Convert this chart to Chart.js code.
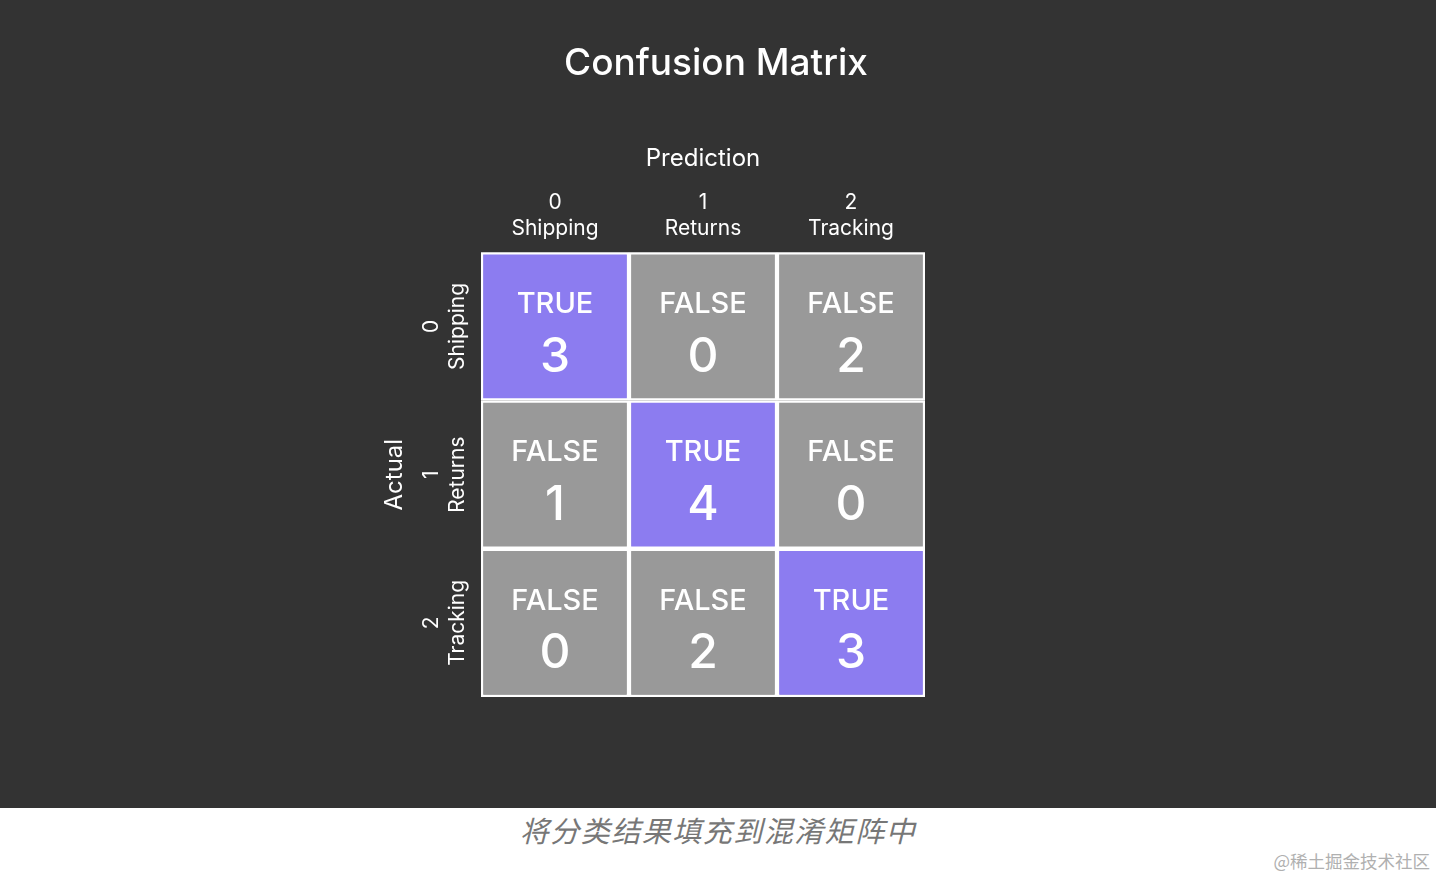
<!DOCTYPE html>
<html>
<head>
<meta charset="utf-8">
<title>Confusion Matrix</title>
<script src="https://cdn.jsdelivr.net/npm/chart.js@4.4.0/dist/chart.umd.min.js"></script>
<style>
  html, body { margin: 0; padding: 0; background: #fff; }
  #board { width: 1436px; height: 808px; background: #333333; }
  #caption {
    position: relative;
    width: 1436px; height: 70px;
    font-family: "Noto Sans CJK SC", sans-serif;
  }
  #caption .text {
    position: absolute; left: 0; right: 0; top: 0px;
    text-align: center;
    font-size: 29px; font-style: italic; color: #777777;
    letter-spacing: 1.5px;
  }
  #caption .mark {
    position: absolute; right: 6px; top: 40px;
    font-size: 17.5px; color: #b0b0b0;
  }
</style>
</head>
<body>
<div id="board"><canvas id="matrix" width="1436" height="808"></canvas></div>
<div id="caption">
  <div class="text">将分类结果填充到混淆矩阵中</div>
  <div class="mark">@稀土掘金技术社区</div>
</div>
<script>
'use strict';

// confusion matrix data: rows = actual, columns = prediction
var classIds = ['0', '1', '2'];
var classNames = ['Shipping', 'Returns', 'Tracking'];
var counts = [
  [3, 0, 2],
  [1, 4, 0],
  [0, 2, 3]
];

var trueColor = '#8c7cf0';
var falseColor = '#999999';
var fontFamily = 'Inter, "Open Sans", sans-serif';

// every cell gets the same height, stacked by row
var datasets = counts.map(function (row, r) {
  return {
    label: classNames[r],
    data: row.map(function () { return 1; }),
    backgroundColor: row.map(function (v, c) { return r === c ? trueColor : falseColor; }),
    borderColor: '#ffffff',
    borderWidth: 2.5,
    borderSkipped: false,
    categoryPercentage: 1,
    barPercentage: 1
  };
});

var cellLabels = {
  id: 'cellLabels',
  afterDatasetsDraw: function (chart) {
    var ctx = chart.ctx;
    var yScale = chart.scales.y;
    var area = chart.chartArea;
    ctx.save();
    ctx.fillStyle = '#ffffff';
    ctx.textAlign = 'center';
    ctx.textBaseline = 'middle';

    // text inside each cell
    chart.data.datasets.forEach(function (ds, row) {
      chart.getDatasetMeta(row).data.forEach(function (bar, col) {
        var cy = (bar.y + bar.base) / 2;
        ctx.font = '500 29px ' + fontFamily;
        ctx.fillText(row === col ? 'TRUE' : 'FALSE', bar.x, cy - 22);
        ctx.font = '500 48px ' + fontFamily;
        ctx.fillText(String(counts[row][col]), bar.x, cy + 31);
      });
    });

    // row labels on the left, turned on their side
    ctx.font = '21px ' + fontFamily;
    for (var r = 0; r < classNames.length; r++) {
      var cy = yScale.getPixelForValue(r + 0.5);
      ctx.save();
      ctx.translate(area.left - 36, cy);
      ctx.rotate(-Math.PI / 2);
      ctx.fillText(classIds[r], 0, -13);
      ctx.fillText(classNames[r], 0, 13);
      ctx.restore();
    }

    // "Actual" axis title
    ctx.font = '24px ' + fontFamily;
    ctx.translate(area.left - 86, (area.top + area.bottom) / 2);
    ctx.rotate(-Math.PI / 2);
    ctx.fillText('Actual', 0, 0);
    ctx.restore();
  }
};

var ctx = document.getElementById('matrix').getContext('2d');
var chart = new Chart(ctx, {
  type: 'bar',
  data: {
    labels: classNames.map(function (name, i) { return [classIds[i], name]; }),
    datasets: datasets
  },
  options: {
    responsive: false,
    animation: false,
    events: [],
    layout: {
      padding: { top: 0, left: 481, right: 485, bottom: 111 }
    },
    plugins: {
      legend: { display: false },
      tooltip: { enabled: false },
      title: {
        display: true,
        text: 'Confusion Matrix',
        color: '#ffffff',
        font: { family: fontFamily, size: 37, weight: '500', lineHeight: 1.2 },
        padding: { top: 42, bottom: 20 }
      }
    },
    scales: {
      x: {
        position: 'top',
        stacked: true,
        grid: { display: false, drawTicks: false },
        border: { display: false },
        ticks: {
          color: '#ffffff',
          padding: 11,
          font: { family: fontFamily, size: 21, lineHeight: 1.24 }
        },
        title: {
          display: true,
          text: 'Prediction',
          color: '#ffffff',
          font: { family: fontFamily, size: 24, lineHeight: 1.2 },
          padding: { top: 38.4, bottom: 4.6 }
        }
      },
      y: {
        // kept on the right as an empty strip so the page title sits centred
        position: 'right',
        stacked: true,
        reverse: true,
        min: 0,
        max: 3,
        grid: { display: false, drawTicks: false },
        border: { display: false },
        ticks: { display: false },
        afterFit: function (scale) { scale.width = 26; }
      }
    }
  },
  plugins: [cellLabels]
});
</script>
</body>
</html>
